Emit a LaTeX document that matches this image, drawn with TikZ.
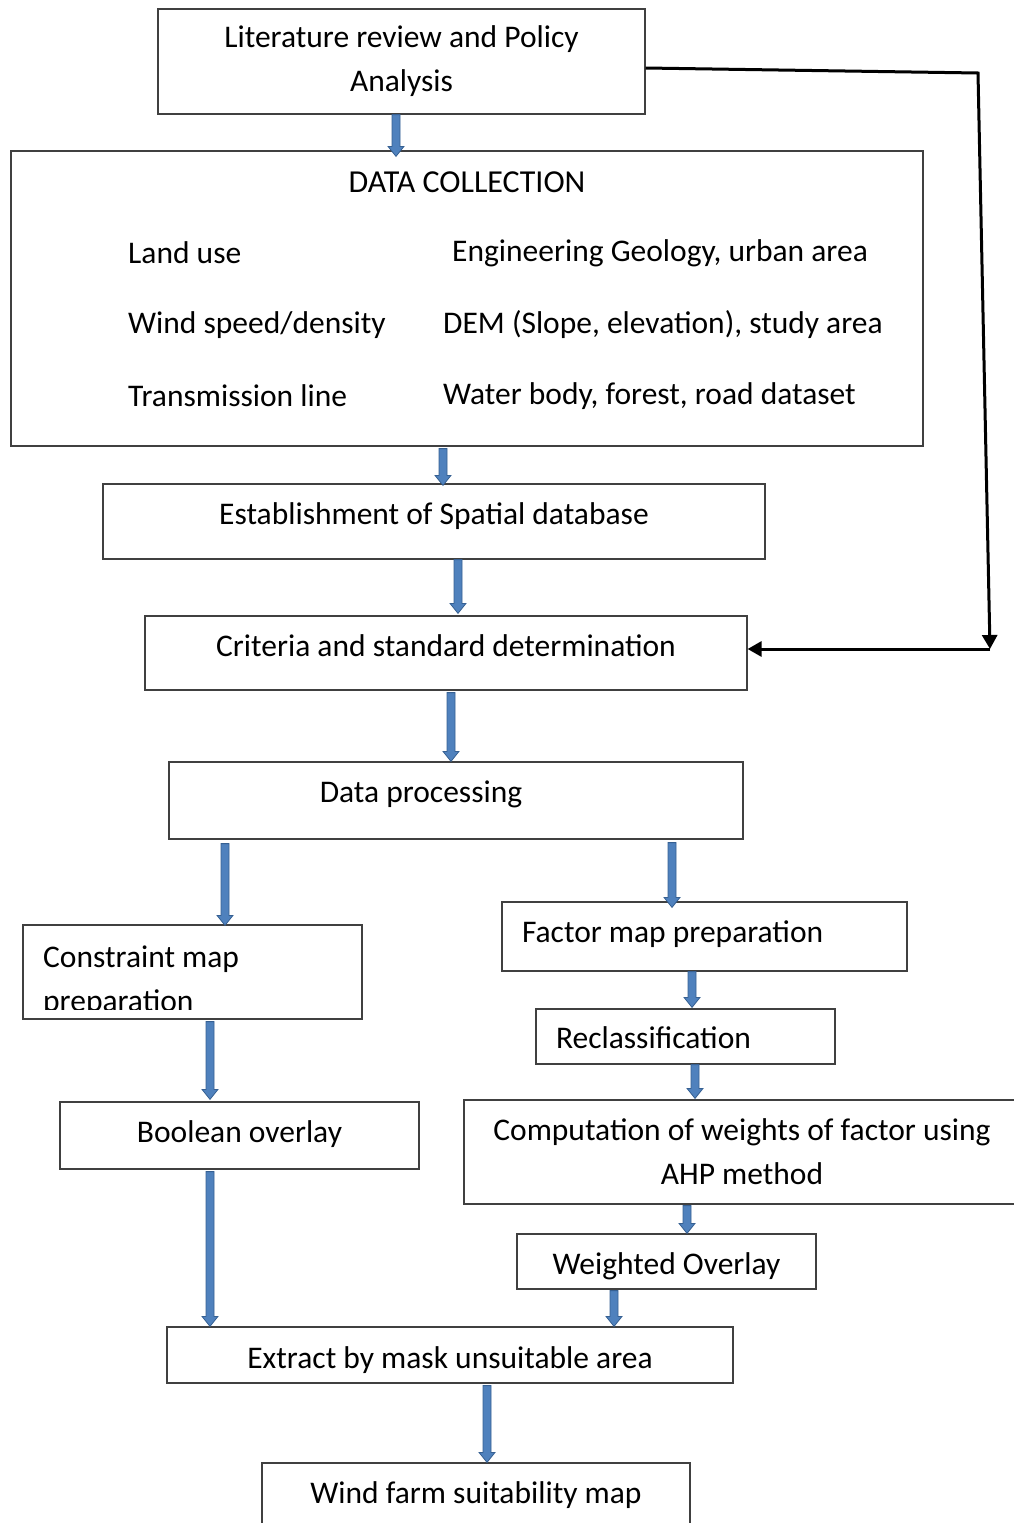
\documentclass[tikz,border=0pt]{standalone}
\usepackage{fontspec}
\setmainfont{Carlito}
\usepackage{tikz}
\usetikzlibrary{arrows.meta,calc}

\definecolor{arrowfill}{RGB}{79,129,189}
\definecolor{arrowline}{RGB}{54,96,146}
\definecolor{boxline}{RGB}{64,64,64}

\begin{document}
\begin{tikzpicture}[x=1pt,y=-1pt,
	box/.style={draw=boxline, line width=1.2pt, inner sep=0pt, font=\fontsize{31.5}{44}\selectfont},
	tb/.style={text height=#1, text depth=0pt},
	itemtext/.style={font=\fontsize{31.5}{38}\selectfont, anchor=west, inner sep=0pt},
	blockarrow/.style={draw=arrowline, fill=arrowfill, line width=0.8pt,
		to path={let \p1=(\tikztostart), \p2=(\tikztotarget) in
			(\x1-4pt,\y1) -- (\x1-4pt,\y2+10pt) -- (\x1-8pt,\y2+10pt) -- (\x1,\y2)
			-- (\x1+8pt,\y2+10pt) -- (\x1+4pt,\y2+10pt) -- (\x1+4pt,\y1) -- cycle}},
	feedback/.style={draw=black, line width=3pt, -{Triangle[length=14pt,width=15pt]}}]
	\useasboundingbox (0,0) rectangle (1013,1523);
	%\draw[help lines] (0,0) grid[step=50] (1013,1523);
	\node[box, minimum width=487, minimum height=105, align=center] (lit) at (401.5,61.5) {Literature review and Policy\\Analysis};
	\node[box, minimum width=912, minimum height=295] (dc) at (467,298.5) {};
	\node[font=\fontsize{32}{38}\selectfont, inner sep=0pt] (dctitle) at (467,182) {DATA COLLECTION};
	\node[itemtext] (land) at (128,253) {Land use};
	\node[itemtext] (wind) at (128,325) {Wind speed/density};
	\node[itemtext] (trans) at (128,396) {Transmission line};
	\node[itemtext] (geol) at (452,253) {Engineering Geology, urban area};
	\node[itemtext] (dem) at (443,325) {DEM (Slope, elevation), study area};
	\node[itemtext] (water) at (443,396) {Water body, forest, road dataset};
	\node[box, tb=5pt, minimum width=662, minimum height=75] (est) at (434,521.5) {Establishment of Spatial database};
	\node[box, tb=6pt, minimum width=602, minimum height=74] (crit) at (446,653) {Criteria and standard determination};
	\node[box, tb=3pt, minimum width=574, minimum height=77] (proc) at (456,800.5) {Data processing\hspace*{70pt}};
	\node[box, minimum width=339, minimum height=94] (cons) at (192.5,972) {};
	\begin{scope}
		\clip (23,925) rectangle (362,1009);
		\node[font=\fontsize{31.5}{44}\selectfont, align=left, anchor=north west, inner sep=0pt] (constext) at (43,946) {Constraint map\\preparation};
	\end{scope}
	\node[box, tb=11pt, minimum width=405, minimum height=69] (fact) at (704.5,936.5) {\makebox[365pt][l]{Factor map preparation}};
	\node[box, tb=23pt, minimum width=299, minimum height=55] (recl) at (685.5,1036.5) {\makebox[259pt][l]{Reclassification}};
	\node[box, minimum width=556, minimum height=104, align=center] (comp) at (742,1152) {Computation of weights of factor using\\AHP method};
	\node[box, tb=25pt, minimum width=299, minimum height=55] (wov) at (666.5,1261.5) {Weighted Overlay};
	\node[box, tb=13pt, minimum width=359, minimum height=67] (bool) at (239.5,1135.5) {Boolean overlay};
	\node[box, tb=26pt, minimum width=566, minimum height=56] (extr) at (450,1355) {Extract by mask unsuitable area};
	\node[box, tb=10pt, minimum width=428, minimum height=70] (farm) at (476,1498) {Wind farm suitability map};
	% block arrows
	\draw[blockarrow] (lit.south -| 396,0) to ([yshift=-6pt]dc.north -| 396,0);
	\draw[blockarrow] ([yshift=-2pt]dc.south -| 443,0) to ([yshift=-2pt]est.north -| 443,0);
	\draw[blockarrow] (est.south -| 458,0) to ([yshift=2pt]crit.north -| 458,0);
	\draw[blockarrow] ([yshift=-2pt]crit.south -| 451,0) to (proc.north -| 451,0);
	\draw[blockarrow] ([yshift=-4pt]proc.south -| 225,0) to ([yshift=-1pt]cons.north -| 225,0);
	\draw[blockarrow] ([yshift=-3pt]proc.south -| 672,0) to ([yshift=-6pt]fact.north -| 672,0);
	\draw[blockarrow] (fact.south -| 692,0) to ([yshift=1pt]recl.north -| 692,0);
	\draw[blockarrow] (recl.south -| 695,0) to ([yshift=1pt]comp.north -| 695,0);
	\draw[blockarrow] ([yshift=-1pt]comp.south -| 687,0) to (wov.north -| 687,0);
	\draw[blockarrow] ([yshift=-1pt]wov.south -| 614,0) to (extr.north -| 614,0);
	\draw[blockarrow] ([yshift=-2pt]cons.south -| 210,0) to ([yshift=2pt]bool.north -| 210,0);
	\draw[blockarrow] ([yshift=-2pt]bool.south -| 210,0) to (extr.north -| 210,0);
	\draw[blockarrow] ([yshift=-2pt]extr.south -| 487,0) to (farm.north -| 487,0);
	% feedback line
	\coordinate (turn) at (978,73);
	\coordinate (drop) at (990,649);
	\draw[feedback] (lit.east |- 0,68) -- (turn) -- (drop);
	\draw[feedback] (drop) -- (crit.east |- drop);
\end{tikzpicture}
\end{document}
